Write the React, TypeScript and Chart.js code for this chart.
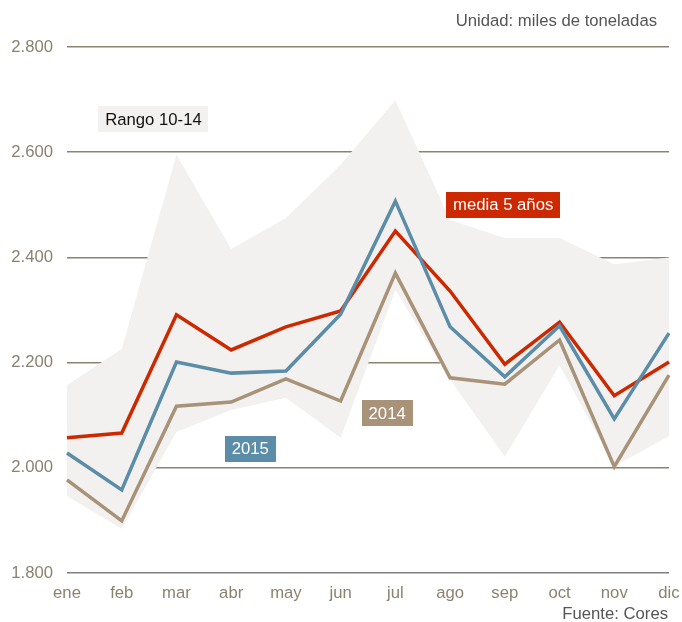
import React, { useEffect, useRef } from "react";
import { Chart, registerables } from "chart.js";

Chart.register(...registerables);

const months = ["ene", "feb", "mar", "abr", "may", "jun", "jul", "ago", "sep", "oct", "nov", "dic"];
const media5 = [2057, 2066, 2291, 2224, 2268, 2298, 2450, 2336, 2197, 2277, 2137, 2201];
const y2015 = [2028, 1958, 2201, 2180, 2184, 2292, 2507, 2268, 2173, 2270, 2093, 2256];
const y2014 = [1977, 1899, 2117, 2125, 2169, 2127, 2370, 2171, 2159, 2243, 2002, 2176];
const rangoMax = [2157, 2226, 2595, 2416, 2475, 2576, 2699, 2471, 2437, 2437, 2387, 2400];
const rangoMin = [1946, 1884, 2068, 2110, 2133, 2057, 2338, 2168, 2021, 2195, 2003, 2060];
const yTicks = [1800, 2000, 2200, 2400, 2600, 2800];

const labelNames = ["Rango 10-14", "media 5 años", "2015", "2014"];
const labelAtMonth = [1.58, 7.97, 3.35, 5.85];
const labelAtValue = [2663, 2500, 2036, 2104];

const RED = "#cc2900";
const BLUE = "#5b8ca8";
const TAN = "#a89278";
const BAND = "#f2f1ef";
const labelFills = [BAND, RED, BLUE, TAN];
const labelTextColors = ["#111111", "#ffffff", "#ffffff", "#ffffff"];

const FONT = "'Liberation Sans', Arial, sans-serif";
const FS = 16.7;

const fmt = (v: number) => {
  const s = Math.round(v).toString();
  return s.length > 3 ? s.slice(0, s.length - 3) + "." + s.slice(s.length - 3) : s;
};

const annotations = {
  id: "annotations",
  afterDatasetsDraw(chart: any) {
    const ctx = chart.ctx;
    const xs = chart.scales.x;
    const ys = chart.scales.y;
    ctx.save();
    ctx.font = `${FS}px ${FONT}`;
    ctx.textBaseline = "middle";
    ctx.textAlign = "center";
    labelNames.forEach((t, i) => {
      const cx = xs.getPixelForValue(labelAtMonth[i]);
      const cy = ys.getPixelForValue(labelAtValue[i]);
      const w = ctx.measureText(t).width + 14;
      const h = 26;
      ctx.fillStyle = labelFills[i];
      ctx.fillRect(Math.round(cx - w / 2), Math.round(cy - h / 2), Math.round(w), h);
      ctx.fillStyle = labelTextColors[i];
      ctx.fillText(t, cx, cy + 1);
    });
    ctx.restore();
  },
  afterDraw(chart: any) {
    const ctx = chart.ctx;
    const a = chart.chartArea;
    ctx.save();
    ctx.font = `${FS}px ${FONT}`;
    ctx.fillStyle = "#555555";
    ctx.textAlign = "right";
    ctx.textBaseline = "alphabetic";
    ctx.fillText("Unidad: miles de toneladas", a.right - 12, 26);
    ctx.fillText("Fuente: Cores", a.right - 1, chart.height - 3);
    ctx.restore();
  },
};

export default function App() {
  const ref = useRef<HTMLCanvasElement>(null);
  useEffect(() => {
    if (!ref.current) return;
    const lineCommon = {
      pointRadius: 0,
      pointHoverRadius: 0,
      borderWidth: 3.5,
      tension: 0,
      fill: false,
      borderJoinStyle: "miter" as const,
    };
    const chart = new Chart(ref.current, {
      type: "line",
      data: {
        labels: months,
        datasets: [
          { label: "max", data: rangoMax, borderWidth: 0, pointRadius: 0, backgroundColor: BAND, borderColor: BAND, fill: "+1", order: 10 },
          { label: "min", data: rangoMin, borderWidth: 0, pointRadius: 0, backgroundColor: BAND, borderColor: BAND, fill: false, order: 11 },
          { label: "2014", data: y2014, borderColor: TAN, ...lineCommon, order: 4 },
          { label: "media 5 años", data: media5, borderColor: RED, ...lineCommon, order: 3 },
          { label: "2015", data: y2015, borderColor: BLUE, ...lineCommon, order: 2 },
        ],
      },
      options: {
        animation: false,
        responsive: false,
        events: [],
        layout: { padding: { top: 47, right: 13, left: 0, bottom: 0 } },
        plugins: { legend: { display: false }, tooltip: { enabled: false } },
        scales: {
          x: {
            offset: false,
            grid: { display: false, drawTicks: false },
            border: { display: false },
            ticks: { color: "#8c8270", font: { family: FONT, size: FS }, padding: 10, maxRotation: 0, autoSkip: false },
            afterFit: (s: any) => { s.height = 49; s.paddingLeft = 0; s.paddingRight = 0; },
          },
          y: {
            min: 1800,
            max: 2800,
            afterBuildTicks: (s: any) => { s.ticks = yTicks.map((v) => ({ value: v })); },
            grid: {
              drawTicks: false,
              lineWidth: 1.5,
              color: (c: any) => (c.tick && c.tick.value === 1800 ? "#808080" : "#8c8370"),
            },
            border: { display: false },
            ticks: { color: "#8c8270", font: { family: FONT, size: FS }, padding: 14, callback: (v: any) => fmt(Number(v)) },
            afterFit: (s: any) => { s.width = 67; s.paddingTop = 0; s.paddingBottom = 0; },
          },
        },
      },
      plugins: [annotations],
    });
    return () => chart.destroy();
  }, []);
  return (
    <div style={{ position: "absolute", left: 0, top: 0, width: 682, height: 622, background: "#fff" }}>
      <canvas ref={ref} width={682} height={622} style={{ display: "block" }} />
    </div>
  );
}
